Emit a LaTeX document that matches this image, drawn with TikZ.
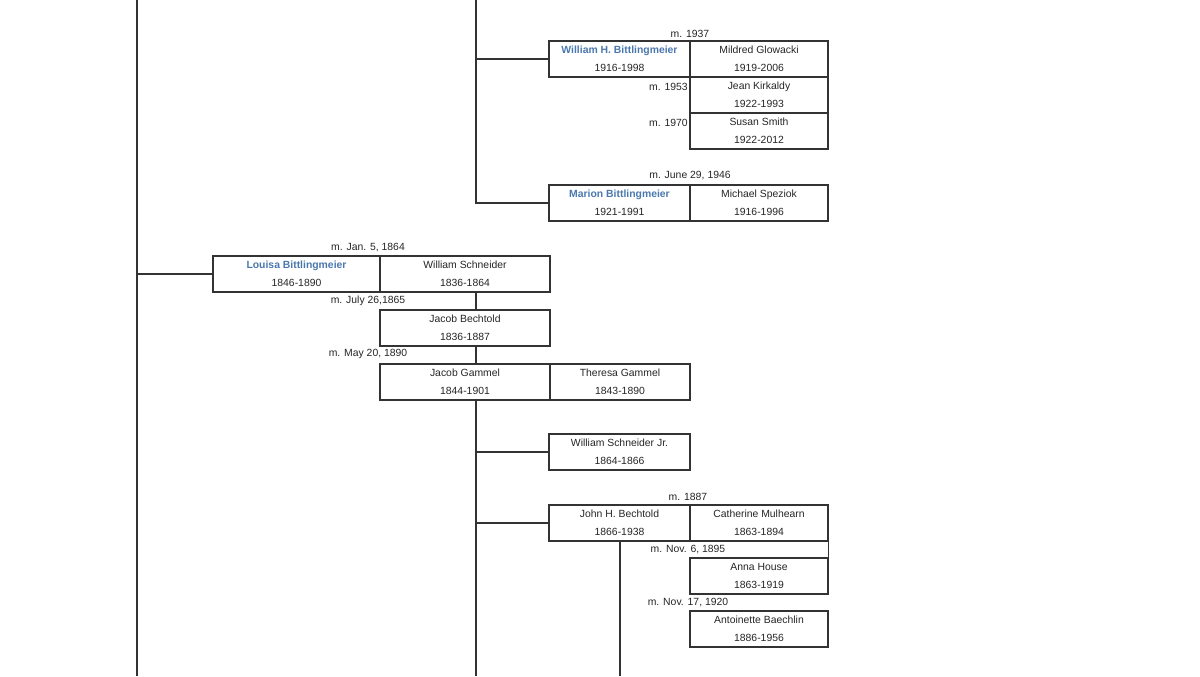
\documentclass[tikz,border=0pt]{standalone}
\usepackage{fontspec}
\setmainfont{Liberation Sans}
\definecolor{bl}{HTML}{4A78AE}
\definecolor{ln}{HTML}{333333}
\begin{document}
\begin{tikzpicture}[x=0.75pt,y=-0.75pt,
  box/.style={draw=ln,line width=0.8pt,minimum height=27pt,inner sep=0pt,align=center,font=\fontsize{7.8}{13.5}\selectfont,text=black!85},
  lbl/.style={font=\fontsize{7.8}{9}\selectfont,text=black!85,inner sep=0pt},
  con/.style={draw=ln,line width=0.9pt}]
\useasboundingbox[fill=white] (0,0) rectangle (1200,676);
\newcommand\bx[7]{\node[box,minimum width={(#4-#2)*0.75pt},#7] (#1) at ({(#2+#4)/2},{(#3+#5)/2}) {#6};}
\bx{wh}{549}{41}{690}{77}{\textcolor{bl}{\textbf{William H. Bittlingmeier}}\\1916-1998}{}
\bx{mg}{690}{41}{828}{77}{Mildred Glowacki\\1919-2006}{}
\bx{jk}{690}{77}{828}{113}{Jean Kirkaldy\\1922-1993}{}
\bx{ss}{690}{113}{828}{149}{Susan Smith\\1922-2012}{}
\bx{mb}{549}{185}{690}{221}{\textcolor{bl}{\textbf{Marion Bittlingmeier}}\\1921-1991}{}
\bx{ms}{690}{185}{828}{221}{Michael Speziok\\1916-1996}{}
\bx{lb}{213}{256}{380}{292}{\textcolor{bl}{\textbf{Louisa Bittlingmeier}}\\1846-1890}{}
\bx{ws}{380}{256}{550}{292}{William Schneider\\1836-1864}{}
\bx{jb}{380}{310}{550}{346}{Jacob Bechtold\\1836-1887}{}
\bx{jg}{380}{364}{550}{400}{Jacob Gammel\\1844-1901}{}
\bx{tg}{550}{364}{690}{400}{Theresa Gammel\\1843-1890}{}
\bx{wj}{549}{434}{690}{470}{William Schneider Jr.\\1864-1866}{}
\bx{jh}{549}{505}{690}{541}{John H. Bechtold\\1866-1938}{}
\bx{cm}{690}{505}{828}{541}{Catherine Mulhearn\\1863-1894}{}
\bx{ah}{690}{558}{828}{594}{Anna House\\1863-1919}{}
\bx{ab}{690}{611}{828}{647}{Antoinette Baechlin\\1886-1956}{}
\node[lbl] (l1) at (690,34) {m. 1937};
\node[lbl,anchor=east] (l2) at (688,87) {m. 1953};
\node[lbl,anchor=east] (l3) at (688,123) {m. 1970};
\node[lbl] (l4) at (690,176) {m. June 29, 1946};
\node[lbl] (l5) at (368,248) {m. Jan. 5, 1864};
\node[lbl] (l6) at (368,301) {m. July 26,1865};
\node[lbl] (l7) at (368,354) {m. May 20, 1890};
\node[lbl] (l8) at (688,497) {m. 1887};
\node[lbl] (l9) at (688,550) {m. Nov. 6, 1895};
\node[lbl] (l10) at (688,603) {m. Nov. 17, 1920};
\coordinate (t1) at (476,0); \coordinate (t0) at (137,0); \coordinate (b0) at (137,676);
\coordinate (b1) at (476,676); \coordinate (b2) at (620,676);
\draw[con] (t1) -- (mb.west -| t1) -- (mb.west);
\draw[con] (wh.west -| t1) -- (wh.west);
\draw[con] (t0) -- (b0);
\draw[con] (lb.west -| t0) -- (lb.west);
\draw[con] (ws.south -| t1) -- (jb.north -| t1);
\draw[con] (jb.south -| t1) -- (jg.north -| t1);
\draw[con] (jg.south -| t1) -- (b1);
\draw[con] (wj.west -| t1) -- (wj.west);
\draw[con] (jh.west -| t1) -- (jh.west);
\draw[con] (cm.south east) -- (ah.north east);
\draw[con] (jh.south -| b2) -- (b2);
\end{tikzpicture}
\end{document}
